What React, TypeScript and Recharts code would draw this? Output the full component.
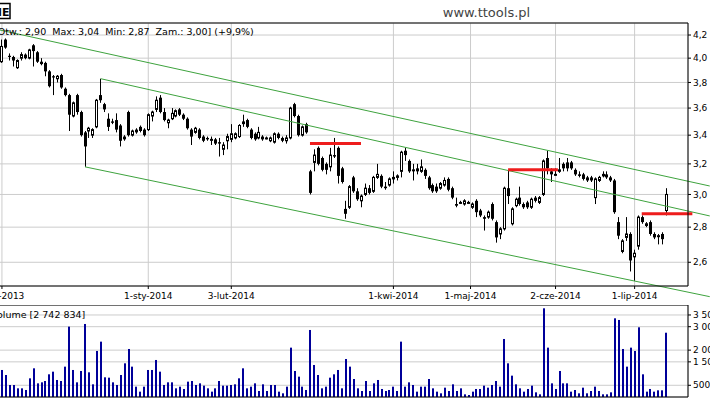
import React from 'react';
import { ComposedChart, Bar, XAxis, YAxis, CartesianGrid, ReferenceLine } from 'recharts';

const FONT = 'DejaVu Sans, Verdana, sans-serif';

// ---- daily OHLC (PLN), one entry per trading day ----
const openP = [
  4.01, 3.97, 4.16, 4.02, 4.01, 3.92, 4.00, 4.03, 4.00, 4.11,
  4.05, 3.97, 3.96, 3.89, 3.85, 3.83, 3.86, 3.75, 3.70, 3.54,
  3.70, 3.57, 3.42, 3.43, 3.40, 3.46, 3.70, 3.63, 3.52, 3.50,
  3.51, 3.47, 3.39, 3.57, 3.40, 3.44, 3.46, 3.44, 3.44, 3.54,
  3.59, 3.68, 3.57, 3.49, 3.52, 3.54, 3.59, 3.55, 3.52, 3.44,
  3.42, 3.44, 3.39, 3.38, 3.37, 3.37, 3.35, 3.30, 3.36, 3.37,
  3.38, 3.39, 3.50, 3.51, 3.44, 3.41, 3.38, 3.39, 3.38, 3.36,
  3.35, 3.41, 3.38, 3.36, 3.38, 3.63, 3.54, 3.40, 3.48, 3.15,
  3.21, 3.31, 3.24, 3.20, 3.18, 3.26, 3.31, 3.17, 2.91, 2.92,
  3.11, 3.02, 2.96, 3.00, 3.04, 3.02, 3.11, 3.12, 3.05, 3.06,
  3.10, 3.11, 3.15, 3.29, 3.22, 3.16, 3.17, 3.15, 3.16, 3.11,
  3.06, 3.05, 3.04, 3.06, 3.10, 3.04, 2.94, 2.95, 2.94, 2.95,
  2.92, 2.96, 2.90, 2.86, 2.86, 2.94, 2.83, 2.76, 2.79, 3.04,
  2.82, 2.93, 2.98, 2.94, 2.95, 2.92, 2.98, 2.95, 3.00, 3.24,
  3.15, 3.13, 3.15, 3.20, 3.21, 3.21, 3.16, 3.13, 3.13, 3.11,
  3.11, 2.98, 3.09, 3.12, 3.13, 3.11, 3.09, 2.83, 2.66, 2.74,
  2.76, 2.63, 2.69, 2.86, 2.81, 2.83, 2.76, 2.75, 2.76, 2.90,
];
const highP = [
  4.03, 4.16, 4.17, 4.04, 4.02, 3.99, 4.05, 4.04, 4.08, 4.12,
  4.06, 4.00, 3.97, 3.90, 3.86, 3.86, 3.87, 3.76, 3.71, 3.65,
  3.71, 3.58, 3.43, 3.46, 3.45, 3.67, 3.83, 3.64, 3.56, 3.52,
  3.56, 3.48, 3.40, 3.58, 3.44, 3.45, 3.47, 3.45, 3.56, 3.58,
  3.69, 3.70, 3.60, 3.52, 3.60, 3.59, 3.60, 3.56, 3.53, 3.45,
  3.46, 3.45, 3.40, 3.39, 3.39, 3.38, 3.38, 3.35, 3.41, 3.48,
  3.42, 3.48, 3.55, 3.52, 3.45, 3.42, 3.46, 3.40, 3.39, 3.39,
  3.42, 3.42, 3.39, 3.40, 3.61, 3.64, 3.55, 3.47, 3.49, 3.16,
  3.30, 3.32, 3.25, 3.21, 3.31, 3.38, 3.32, 3.18, 2.96, 3.06,
  3.12, 3.04, 3.00, 3.07, 3.06, 3.12, 3.20, 3.13, 3.08, 3.11,
  3.15, 3.13, 3.29, 3.31, 3.23, 3.20, 3.20, 3.23, 3.17, 3.12,
  3.07, 3.07, 3.08, 3.11, 3.11, 3.05, 2.98, 2.96, 2.97, 2.96,
  2.95, 2.97, 2.91, 2.87, 2.90, 2.95, 2.84, 2.80, 3.05, 3.16,
  2.92, 2.98, 3.05, 2.95, 2.96, 2.98, 2.99, 2.99, 3.23, 3.29,
  3.17, 3.17, 3.24, 3.21, 3.24, 3.22, 3.17, 3.15, 3.14, 3.12,
  3.12, 3.11, 3.12, 3.15, 3.15, 3.12, 3.10, 2.86, 2.73, 2.86,
  2.77, 2.67, 2.87, 2.87, 2.83, 2.84, 2.77, 2.76, 2.77, 3.04,
];
const lowP = [
  3.87, 3.96, 4.08, 3.98, 3.93, 3.91, 3.98, 3.99, 3.99, 3.93,
  3.96, 3.94, 3.85, 3.76, 3.70, 3.80, 3.75, 3.69, 3.43, 3.53,
  3.55, 3.39, 3.18, 3.38, 3.38, 3.45, 3.64, 3.57, 3.43, 3.48,
  3.42, 3.32, 3.36, 3.39, 3.39, 3.41, 3.42, 3.39, 3.43, 3.50,
  3.57, 3.56, 3.50, 3.45, 3.51, 3.53, 3.54, 3.51, 3.44, 3.33,
  3.41, 3.37, 3.35, 3.36, 3.33, 3.33, 3.25, 3.26, 3.30, 3.35,
  3.37, 3.38, 3.46, 3.45, 3.37, 3.36, 3.37, 3.36, 3.37, 3.35,
  3.34, 3.37, 3.35, 3.34, 3.37, 3.53, 3.39, 3.39, 3.41, 3.00,
  3.15, 3.19, 3.15, 3.13, 3.15, 3.24, 3.07, 3.07, 2.85, 2.91,
  3.01, 2.96, 2.92, 2.99, 3.00, 3.01, 3.10, 3.04, 3.03, 3.05,
  3.07, 3.09, 3.11, 3.22, 3.14, 3.09, 3.13, 3.14, 3.10, 3.03,
  3.01, 3.01, 3.03, 3.05, 3.02, 2.97, 2.92, 2.94, 2.93, 2.94,
  2.91, 2.86, 2.86, 2.78, 2.85, 2.84, 2.71, 2.73, 2.78, 2.94,
  2.81, 2.92, 2.93, 2.91, 2.91, 2.91, 2.95, 2.94, 2.99, 3.13,
  3.08, 3.12, 3.14, 3.15, 3.15, 3.16, 3.12, 3.11, 3.09, 3.08,
  3.08, 2.94, 3.08, 3.11, 3.10, 3.08, 2.88, 2.73, 2.65, 2.72,
  2.55, 2.50, 2.67, 2.82, 2.80, 2.75, 2.73, 2.70, 2.70, 2.87,
];
const closeP = [
  3.89, 4.10, 4.09, 4.01, 3.98, 3.98, 4.03, 4.00, 4.07, 4.06,
  3.97, 3.95, 3.89, 3.77, 3.84, 3.85, 3.76, 3.70, 3.55, 3.64,
  3.57, 3.40, 3.32, 3.45, 3.44, 3.66, 3.66, 3.59, 3.46, 3.49,
  3.44, 3.36, 3.37, 3.40, 3.43, 3.42, 3.43, 3.40, 3.55, 3.57,
  3.66, 3.57, 3.51, 3.51, 3.56, 3.58, 3.55, 3.52, 3.45, 3.39,
  3.45, 3.38, 3.36, 3.37, 3.37, 3.34, 3.34, 3.33, 3.39, 3.41,
  3.41, 3.47, 3.48, 3.46, 3.38, 3.37, 3.42, 3.37, 3.38, 3.38,
  3.41, 3.38, 3.36, 3.38, 3.60, 3.54, 3.40, 3.46, 3.42, 3.01,
  3.26, 3.20, 3.16, 3.16, 3.26, 3.25, 3.12, 3.08, 2.88, 3.05,
  3.02, 2.97, 2.99, 3.04, 3.01, 3.11, 3.13, 3.05, 3.04, 3.10,
  3.11, 3.12, 3.28, 3.26, 3.15, 3.16, 3.15, 3.18, 3.12, 3.04,
  3.02, 3.02, 3.07, 3.09, 3.03, 2.98, 2.93, 2.95, 2.96, 2.95,
  2.94, 2.89, 2.87, 2.85, 2.89, 2.85, 2.74, 2.79, 3.04, 2.99,
  2.91, 2.97, 2.94, 2.92, 2.92, 2.97, 2.96, 2.98, 3.22, 3.17,
  3.13, 3.13, 3.16, 3.17, 3.17, 3.17, 3.13, 3.12, 3.10, 3.09,
  3.09, 3.10, 3.11, 3.13, 3.11, 3.09, 2.89, 2.75, 2.72, 2.76,
  2.61, 2.65, 2.86, 2.83, 2.82, 2.76, 2.74, 2.75, 2.73, 3.00,
];
// ---- daily volume, thousands of shares ----
const volumeK = [
  939, 1153, 939, 512, 512, 370, 370, 299, 797, 1224,
  583, 626, 683, 968, 1081, 726, 683, 1295, 3003, 1153,
  626, 1110, 3116, 1053, 541, 1964, 2362, 840, 825, 626,
  512, 939, 1437, 2049, 1295, 441, 228, 441, 1153, 1153,
  1580, 1081, 512, 626, 626, 370, 441, 342, 655, 683,
  512, 583, 484, 370, 228, 370, 683, 484, 484, 512,
  541, 797, 1224, 370, 441, 583, 256, 541, 256, 512,
  512, 228, 157, 441, 2106, 1110, 868, 441, 299, 2860,
  1366, 939, 370, 441, 825, 968, 1153, 370, 1622, 1295,
  768, 370, 256, 683, 256, 583, 726, 342, 256, 299,
  441, 256, 2362, 441, 626, 512, 228, 441, 441, 768,
  370, 228, 157, 398, 256, 541, 256, 370, 114, 85,
  228, 342, 342, 484, 398, 512, 683, 441, 2476, 1437,
  911, 541, 370, 228, 342, 484, 199, 114, 3785, 2106,
  583, 342, 1110, 583, 583, 228, 299, 157, 398, 157,
  256, 441, 256, 114, 114, 199, 3358, 3287, 2049, 1295,
  2106, 1964, 2974, 968, 228, 342, 228, 285, 285, 2743,
];

// ---- axes ----
const tickSlots = [1, 38, 59, 100, 119.5, 141, 161];
const tickLabels = ['4-lis-2013', '1-sty-2014', '3-lut-2014', '1-kwi-2014', '1-maj-2014', '2-cze-2014', '1-lip-2014'];
const priceTicks = [2.6, 2.8, 3.0, 3.2, 3.4, 3.6, 3.8, 4.0, 4.2];
const volumeTicks = [500, 1500, 2000, 3000, 3500];
const slotDomain = [-7.08, 174.5];
const priceDomain = [2.473, 4.308];
const volumeDomain = [0, 3926];

// ---- drawn trend channel (slot, price) and resistance levels ----
const channelUpper = [{ slot: -2, price: 4.264 }, { slot: 180, price: 3.054 }];
const channelMiddle = [{ slot: 26, price: 3.83 }, { slot: 180, price: 2.867 }];
const channelLower = [{ slot: 22, price: 3.18 }, { slot: 180, price: 2.418 }];
const levelFrom = [78.9, 129, 162.8];
const levelTo = [91.8, 141.6, 175.6];
const levelPrice = [3.34, 3.16, 2.88];

const data = openP.map((o, i) => ({
  slot: i,
  open: o,
  high: highP[i],
  low: lowP[i],
  close: closeP[i],
  vol: volumeK[i],
}));

const CandleShape = (props: any) => {
  const { x, y, width, height, payload } = props;
  if (!payload || x == null || y == null) return <g />;
  const top = Math.min(y, y + height);
  const bottom = Math.max(y, y + height);
  const { open, high, low, close } = payload;
  const lh = Math.log(high);
  const ll = Math.log(low);
  const span = lh - ll;
  const py = (p: number) => (span > 0 ? top + ((lh - Math.log(p)) / span) * (bottom - top) : top);
  const cx = Math.round(x + width / 2) + 0.5;
  const yo = py(open);
  const yc = py(close);
  const bull = close >= open;
  const bt = Math.min(yo, yc);
  const bh = Math.max(Math.abs(yo - yc), 1);
  return (
    <g>
      <line x1={cx} x2={cx} y1={top} y2={bottom} stroke="#000" strokeWidth={1} />
      {bull ? (
        <rect x={cx - 1} y={bt} width={2} height={bh} fill="#fff" stroke="#000" strokeWidth={1} />
      ) : (
        <rect x={cx - 1.5} y={bt} width={3} height={bh} fill="#000" />
      )}
    </g>
  );
};

const VolumeShape = (props: any) => {
  const { x, y, width, height } = props;
  if (x == null || y == null) return <g />;
  const cx = Math.round(x + width / 2);
  return <rect x={cx - 1} y={y} width={2} height={Math.max(height, 0)} fill="#000099" />;
};

const fmtPrice = (v: number) => v.toFixed(1).replace('.', ',');
const fmtVol = (v: number) =>
  v >= 1000 ? `${Math.floor(v / 1000)}\u00a0${String(v % 1000).padStart(3, '0')}` : String(v);
const fmtDate = (v: number) => {
  const i = tickSlots.indexOf(v);
  return i >= 0 ? tickLabels[i] : '';
};

const tickStyle = { fontSize: 9, fill: '#000', fontFamily: FONT };
const GREEN = '#3ea33e';
const RED = '#ee1c1c';

export default function App() {
  return (
    <div style={{ position: 'absolute', left: 0, top: 0, width: 710, height: 400, overflow: 'hidden', background: '#fff' }}>
      <div style={{ position: 'absolute', left: -30, top: 0, width: 740, height: 400 }}>
        <ComposedChart
          width={740}
          height={305}
          data={data}
          margin={{ top: 23, right: 0, bottom: 0, left: 0 }}
          style={{ fontFamily: FONT }}
        >
          <CartesianGrid stroke="#cccccc" strokeWidth={1} />
          <XAxis
            dataKey="slot"
            type="number"
            domain={slotDomain}
            allowDataOverflow
            ticks={tickSlots}
            interval={0}
            tickFormatter={fmtDate}
            height={19}
            tickSize={3}
            tickMargin={4}
            tick={tickStyle}
            axisLine={{ stroke: '#000' }}
            tickLine={{ stroke: '#000' }}
          />
          <YAxis
            orientation="right"
            width={22}
            scale="log"
            domain={priceDomain}
            allowDataOverflow
            ticks={priceTicks}
            interval={0}
            tickFormatter={fmtPrice}
            tickSize={3}
            tickMargin={2}
            tick={tickStyle}
            axisLine={{ stroke: '#000' }}
            tickLine={{ stroke: '#000' }}
          />
          <ReferenceLine y={priceDomain[1]} stroke="#000" strokeWidth={1} ifOverflow="visible" />
          <Bar
            dataKey={(d: any) => [d.low, d.high]}
            shape={CandleShape}
            barSize={3}
            isAnimationActive={false}
          />
          <ReferenceLine
            segment={channelUpper.map((p) => ({ x: p.slot, y: p.price }))}
            stroke={GREEN}
            strokeWidth={1}
            ifOverflow="visible"
          />
          <ReferenceLine
            segment={channelMiddle.map((p) => ({ x: p.slot, y: p.price }))}
            stroke={GREEN}
            strokeWidth={1}
            ifOverflow="visible"
          />
          <ReferenceLine
            segment={channelLower.map((p) => ({ x: p.slot, y: p.price }))}
            stroke={GREEN}
            strokeWidth={1}
            ifOverflow="visible"
          />
          {levelPrice.map((p, i) => (
            <ReferenceLine
              key={`lvl${i}`}
              segment={[{ x: levelFrom[i], y: p }, { x: levelTo[i], y: p }]}
              stroke={RED}
              strokeWidth={3}
              ifOverflow="visible"
            />
          ))}
        </ComposedChart>
        <ComposedChart
          width={740}
          height={95}
          data={data}
          margin={{ top: 0, right: 0, bottom: 0, left: 0 }}
          style={{ fontFamily: FONT }}
        >
          <CartesianGrid stroke="#cccccc" strokeWidth={1} />
          <XAxis
            dataKey="slot"
            type="number"
            domain={slotDomain}
            allowDataOverflow
            ticks={tickSlots}
            interval={0}
            height={3}
            tick={false}
            tickLine={false}
            axisLine={{ stroke: '#000' }}
          />
          <YAxis
            orientation="right"
            width={22}
            domain={volumeDomain}
            allowDataOverflow
            ticks={volumeTicks}
            interval={0}
            tickFormatter={fmtVol}
            tickSize={3}
            tickMargin={2}
            tick={tickStyle}
            axisLine={{ stroke: '#000' }}
            tickLine={{ stroke: '#000' }}
          />
          <ReferenceLine y={volumeDomain[1]} stroke="#000" strokeWidth={1} ifOverflow="visible" />
          <Bar dataKey="vol" shape={VolumeShape} barSize={2} isAnimationActive={false} />
        </ComposedChart>
      </div>
      <svg
        width={710}
        height={400}
        style={{ position: 'absolute', left: 0, top: 0, pointerEvents: 'none' }}
      >
        <rect x={-40} y={3.5} width={50} height={15} fill="#fff" stroke="#000" strokeWidth={1.5} />
        <text x={9.5} y={15.5} textAnchor="end" fontSize={11} fontWeight="bold" fontFamily={FONT} fill="#000">ME</text>
        <text x={486.5} y={16.5} textAnchor="middle" fontSize={13} fontFamily={FONT} fill="#444">www.ttools.pl</text>
        <text x={-6} y={35} fontSize={9.5} fontFamily={FONT} fill="#000" style={{ whiteSpace: 'pre' }}>
          {'[Otw.: 2,90  Max: 3,04  Min: 2,87  Zam.: 3,00] (+9,9%)'}
        </text>
        <text x={-8.8} y={318} fontSize={9.5} fontFamily={FONT} fill="#000">Volume [2 742 834]</text>
      </svg>
    </div>
  );
}
